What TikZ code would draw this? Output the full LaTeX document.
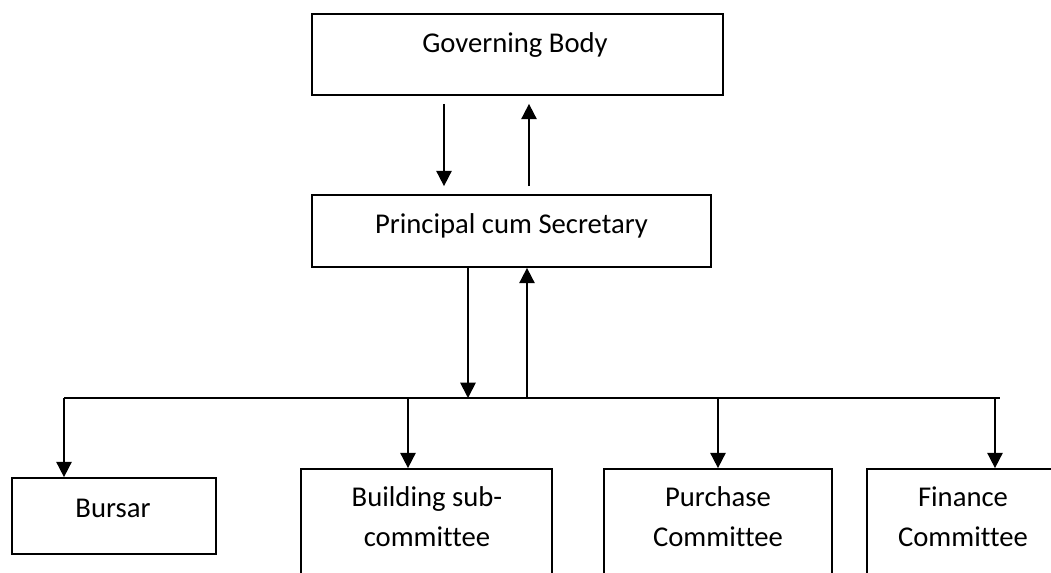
\documentclass[tikz,border=0pt]{standalone}
\usepackage{fontspec}
\setmainfont{Carlito}[Ligatures = NoCommon]
\usetikzlibrary{arrows.meta}

\tikzset{
	box/.style = {draw, line width = 1.3pt, inner sep = 0pt},
	txt/.style = {font = \fontsize{21.5}{30}\selectfont, align = center, inner sep = 0pt, anchor = base},
	arr/.style = {line width = 1.3pt, -{Triangle[width = 11.5pt, length = 11.5pt]}}
}

\begin{document}
\begin{tikzpicture}[x = 0.75pt, y = -0.75pt]
				\useasboundingbox (0, 0) rectangle (1051, 572);
				\clip (0, 0) rectangle (1051, 572);
				
				% boxes (sizes in px, 1px = 0.75pt)
				\node[box, minimum width = 411*0.75pt, minimum height = 81*0.75pt] (gb) at (517.5, 54.5) {};
				\node[box, minimum width = 399*0.75pt, minimum height = 72*0.75pt] (ps) at (511.5, 231) {};
				\node[box, minimum width = 204*0.75pt, minimum height = 76*0.75pt] (bursar) at (114, 516) {};
				\node[box, minimum width = 251*0.75pt, minimum height = 131*0.75pt] (bsc) at (426.5, 534.5) {};
				\node[box, minimum width = 228*0.75pt, minimum height = 131*0.75pt] (pur) at (718, 534.5) {};
				\node[box, minimum width = 193*0.75pt, minimum height = 131*0.75pt] (fin) at (963.5, 534.5) {};
				
				% x of the arrows
				\coordinate (gbdn) at (444, 0);
				\coordinate (gbup) at (529, 0);
				\coordinate (psdn) at (468, 0);
				\coordinate (psup) at (527, 0);
				\coordinate (busL) at (64, 398);
				\coordinate (busR) at (1000, 398);
				\coordinate (bscx) at (408, 0);
				\coordinate (finx) at (995, 0);
				
				% arrows
				\draw[arr, shorten <= 6pt, shorten >= 6pt] (gb.south -| gbdn) -- (ps.north -| gbdn);
				\draw[arr, shorten <= 6pt, shorten >= 6pt] (ps.north -| gbup) -- (gb.south -| gbup);
				\draw[arr] (ps.south -| psdn) -- (busL -| psdn);
				\draw[arr] (busL -| psup) -- (ps.south -| psup);
				\draw[line width = 1.3pt] (busL) -- (busR);
				\draw[arr] (busL) -- (bursar.north -| busL);
				\draw[arr] (busL -| bscx) -- (bsc.north -| bscx);
				\draw[arr] (busL -| pur.north) -- (pur.north);
				\draw[arr] (busL -| finx) -- (fin.north -| finx);
				
				% labels
				\node[txt] (gbtxt) at (515, 52) {Governing Body};
				\node[txt] (pstxt) at (511.5, 233) {Principal cum Secretary};
				\node[txt] (bursartxt) at (113, 517) {Bursar};
				\node[txt] (bsctxt) at (427, 546) {Building sub-\\committee};
				\node[txt] (purtxt) at (718, 546) {Purchase\\Committee};
				\node[txt] (fintxt) at (963, 546) {Finance\\Committee};
				
			\end{tikzpicture}
\end{document}
